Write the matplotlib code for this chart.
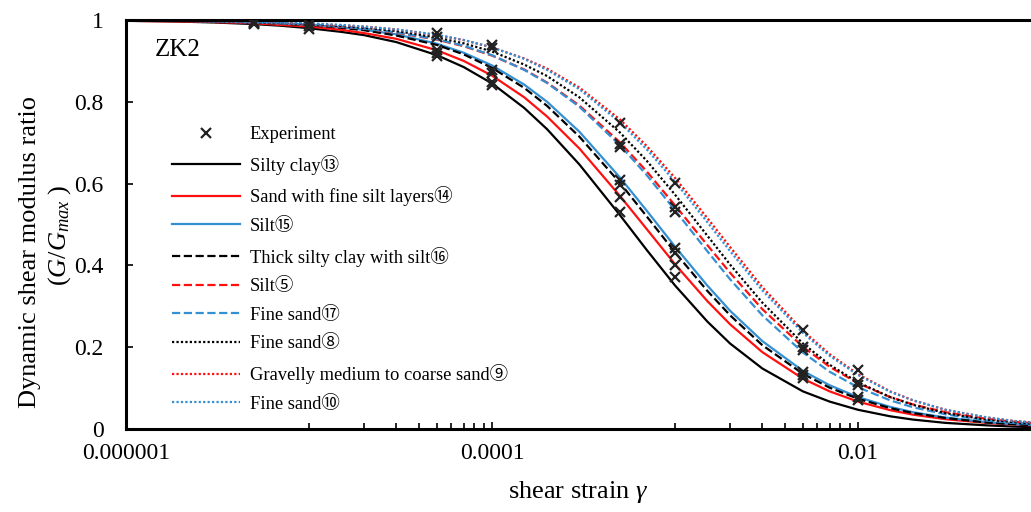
import numpy as np
import matplotlib
matplotlib.use('Agg')
import matplotlib.pyplot as plt
from matplotlib.ticker import FixedLocator, NullFormatter

plt.rcParams['font.family'] = ['Liberation Serif', 'Noto Sans CJK JP']
plt.rcParams['mathtext.fontset'] = 'custom'
plt.rcParams['mathtext.rm'] = 'Liberation Serif'
plt.rcParams['mathtext.it'] = 'Liberation Serif:italic'

# shear strain points the curves were read at
strain = [1e-6, 1.5e-6, 2e-6, 3e-6, 5e-6, 7e-6,
          1e-5, 1.5e-5, 2e-5, 3e-5, 5e-5, 7e-5,
          1e-4, 1.5e-4, 2e-4, 3e-4, 5e-4, 7e-4,
          1e-3, 1.5e-3, 2e-3, 3e-3, 5e-3, 7e-3,
          1e-2, 1.5e-2, 2e-2, 3e-2, 5e-2, 7e-2, 1e-1]

# G/Gmax
silty_clay_13 = [0.998, 0.997, 0.996, 0.994, 0.990, 0.986, 0.980, 0.971, 0.963, 0.946, 0.914, 0.885,
                 0.845, 0.785, 0.733, 0.647, 0.523, 0.438, 0.351, 0.263, 0.209, 0.148, 0.092, 0.067,
                 0.047, 0.031, 0.023, 0.015, 0.009, 0.006, 0.004]
sand_silt_14 = [0.998, 0.997, 0.997, 0.995, 0.992, 0.988, 0.984, 0.976, 0.968, 0.954, 0.926, 0.900,
                0.864, 0.811, 0.764, 0.686, 0.570, 0.489, 0.403, 0.313, 0.256, 0.188, 0.123, 0.092,
                0.067, 0.046, 0.035, 0.024, 0.015, 0.011, 0.008]
silt_15 = [0.999, 0.998, 0.998, 0.997, 0.994, 0.992, 0.988, 0.982, 0.976, 0.965, 0.942, 0.920,
           0.889, 0.842, 0.800, 0.727, 0.615, 0.534, 0.446, 0.351, 0.289, 0.215, 0.142, 0.107,
           0.078, 0.054, 0.041, 0.028, 0.017, 0.012, 0.009]
thick_clay_16 = [0.999, 0.998, 0.998, 0.996, 0.994, 0.991, 0.987, 0.981, 0.975, 0.962, 0.939, 0.916,
                 0.883, 0.834, 0.790, 0.715, 0.602, 0.520, 0.432, 0.338, 0.278, 0.205, 0.135, 0.101,
                 0.074, 0.051, 0.039, 0.027, 0.016, 0.012, 0.008]
silt_5 = [0.999, 0.998, 0.997, 0.996, 0.994, 0.992, 0.988, 0.983, 0.979, 0.969, 0.952, 0.936,
          0.913, 0.879, 0.847, 0.791, 0.701, 0.630, 0.547, 0.450, 0.382, 0.293, 0.201, 0.152,
          0.112, 0.078, 0.060, 0.041, 0.025, 0.018, 0.013]
fine_sand_17 = [0.999, 0.998, 0.998, 0.996, 0.994, 0.992, 0.989, 0.984, 0.979, 0.970, 0.953, 0.937,
                0.914, 0.878, 0.846, 0.788, 0.694, 0.621, 0.535, 0.435, 0.366, 0.278, 0.187, 0.140,
                0.102, 0.070, 0.053, 0.036, 0.021, 0.015, 0.011]
fine_sand_8 = [0.999, 0.998, 0.998, 0.996, 0.994, 0.993, 0.990, 0.985, 0.981, 0.973, 0.957, 0.943,
               0.923, 0.891, 0.863, 0.811, 0.725, 0.656, 0.573, 0.473, 0.402, 0.309, 0.209, 0.157,
               0.114, 0.078, 0.059, 0.039, 0.023, 0.017, 0.011]
gravel_sand_9 = [0.999, 0.998, 0.998, 0.997, 0.995, 0.994, 0.991, 0.987, 0.984, 0.977, 0.963, 0.951,
                 0.933, 0.906, 0.881, 0.835, 0.757, 0.692, 0.614, 0.516, 0.445, 0.347, 0.240, 0.183,
                 0.134, 0.092, 0.070, 0.047, 0.028, 0.020, 0.014]
fine_sand_10 = [0.999, 0.999, 0.998, 0.997, 0.996, 0.994, 0.992, 0.988, 0.984, 0.977, 0.964, 0.951,
                0.933, 0.905, 0.878, 0.831, 0.750, 0.684, 0.605, 0.506, 0.435, 0.339, 0.235, 0.179,
                0.132, 0.091, 0.070, 0.047, 0.029, 0.020, 0.014]

# experiment points, grouped by strain level
exp_levels = [5e-6, 1e-5, 5e-5, 1e-4, 5e-4, 1e-3, 5e-3, 1e-2]
exp_ratios = [
    [0.995, 0.992, 0.990],
    [0.990, 0.985, 0.978],
    [0.967, 0.959, 0.927, 0.919, 0.911],
    [0.939, 0.931, 0.878, 0.870, 0.849, 0.841],
    [0.747, 0.698, 0.690, 0.609, 0.597, 0.568, 0.531],
    [0.601, 0.544, 0.531, 0.442, 0.430, 0.401, 0.372],
    [0.242, 0.201, 0.193, 0.140, 0.132, 0.124],
    [0.144, 0.116, 0.108, 0.079, 0.071],
]

RED = '#ff1010'
BLUE = '#3490d2'
dotted = (0, (1, 1))

series = [
    ('Silty clay⑬', silty_clay_13, 'black', '-'),
    ('Sand with fine silt layers⑭', sand_silt_14, RED, '-'),
    ('Silt⑮', silt_15, BLUE, '-'),
    ('Thick silty clay with silt⑯', thick_clay_16, 'black', '--'),
    ('Silt⑤', silt_5, RED, '--'),
    ('Fine sand⑰', fine_sand_17, BLUE, '--'),
    ('Fine sand⑧', fine_sand_8, 'black', dotted),
    ('Gravelly medium to coarse sand⑨', gravel_sand_9, RED, dotted),
    ('Fine sand⑩', fine_sand_10, BLUE, dotted),
]

W, H = 1031, 512
fig = plt.figure(figsize=(W / 100, H / 100), dpi=100)
# the original is cropped on the right, so the axes run past the figure edge
ax = fig.add_axes([126 / W, 1 - 429 / H, (1041 - 126) / W, (429 - 20) / H])

exp_x, exp_y = [], []
for lvl, vals in zip(exp_levels, exp_ratios):
    exp_x += [lvl] * len(vals)
    exp_y += vals
ax.plot(exp_x, exp_y, linestyle='none', marker='x', color='#222222',
        ms=6.5, mew=1.6, zorder=5, label='Experiment')

for label, vals, color, ls in series:
    ax.plot(strain, vals, color=color, linestyle=ls, lw=1.6, label=label)

ax.set_xscale('log')
ax.set_xlim(1e-6, 1e-1)
ax.set_ylim(0, 1)
ax.set_xticks([1e-6, 1e-4, 1e-2], ['0.000001', '0.0001', '0.01'])
minor = [m * 10.0 ** e for e in (-5, -3) for m in range(1, 10)]
ax.xaxis.set_minor_locator(FixedLocator(minor))
ax.xaxis.set_minor_formatter(NullFormatter())
ax.set_yticks([0, 0.2, 0.4, 0.6, 0.8, 1.0], ['0', '0.2', '0.4', '0.6', '0.8', '1'])

ax.tick_params(axis='both', which='both', direction='in', width=1.2, labelsize=17)
ax.tick_params(axis='x', which='major', length=5, pad=10)
ax.tick_params(axis='x', which='minor', length=4)
ax.tick_params(axis='y', which='major', length=5, pad=16)
for side in ('left', 'bottom', 'top'):
    ax.spines[side].set_linewidth(2.2)
ax.spines['right'].set_visible(False)

ax.text(155 / W, 1 - 50 / H, 'ZK2', transform=fig.transFigure, fontsize=18,
        ha='left', va='center')

ax.legend(loc='upper left', bbox_to_anchor=(172 / W, 1 - 126 / H),
          bbox_transform=fig.transFigure, frameon=False, fontsize=13.3,
          handlelength=3.7, handletextpad=0.5, labelspacing=0.63,
          borderpad=0, borderaxespad=0, numpoints=1)

fig.text(30 / W, 1 - 252 / H, 'Dynamic shear modulus ratio', rotation=90,
         fontsize=19, ha='center', va='center')
fig.text(60 / W, 1 - 235 / H, r'$(G/G_{max}\ )$', rotation=90,
         fontsize=19, ha='center', va='center')
fig.text(578 / W, 1 - 492 / H, r'shear strain $\gamma$', fontsize=19,
         ha='center', va='center')

fig.savefig('out.png', dpi=100)
